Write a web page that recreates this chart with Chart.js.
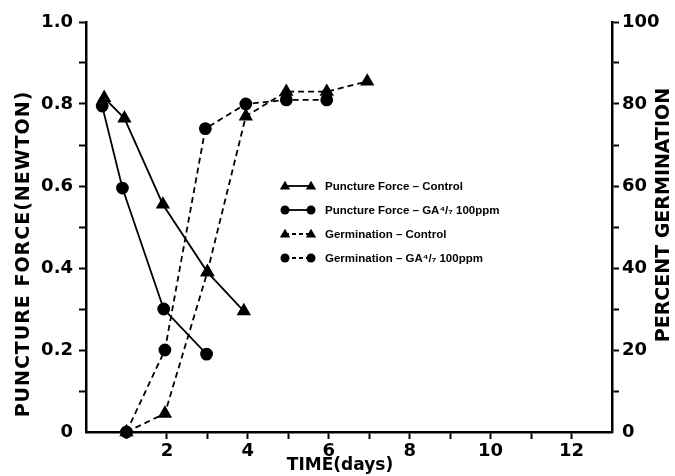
<!DOCTYPE html>
<html><head><meta charset="utf-8">
<script src="https://cdn.jsdelivr.net/npm/chart.js@4.4.1/dist/chart.umd.min.js"></script>
<style>html,body{margin:0;padding:0;background:#fff}#wrap{width:675px;height:476px}</style>
</head><body><div id="wrap"><canvas id="c" width="675" height="476"></canvas></div>
<script>
// ---- data ----
const pfControlDays = [0.45, 0.95, 1.9, 3, 3.9];
const pfControlForce = [0.815, 0.765, 0.555, 0.39, 0.295];
const pfGaDays = [0.4, 0.9, 1.92, 2.98];
const pfGaForce = [0.795, 0.595, 0.3, 0.19];
const germControlDays = [1, 1.95, 3, 3.95, 4.95, 5.95, 6.95];
const germControlPct = [0, 4.5, 39, 77, 83, 83, 85.5];
const germGaDays = [1, 1.95, 2.95, 3.95, 4.95, 5.95];
const germGaPct = [0, 20, 74, 80, 81, 81];
const xTickLabels = [2, 4, 6, 8, 10, 12];
const leftTickLabels = [0, 0.2, 0.4, 0.6, 0.8, 1.0];
const rightTickLabels = [0, 20, 40, 60, 80, 100];
const legendLabels = [
  'Puncture Force – Control',
  'Puncture Force – GA⁴/₇ 100ppm',
  'Germination – Control',
  'Germination – GA⁴/₇ 100ppm'
];

const pts = (xs, ys) => xs.map((x, i) => ({x, y: ys[i]}));
const FONT = 'DejaVu Sans';

function marker(ctx, style, x, y, r) {
  ctx.beginPath();
  if (style === 'circle') {
    ctx.arc(x, y, r, 0, Math.PI * 2);
  } else {
    const h = r * 1.9;
    ctx.moveTo(x, y - h * 0.6);
    ctx.lineTo(x + r * 1.15, y + h * 0.4);
    ctx.lineTo(x - r * 1.15, y + h * 0.4);
    ctx.closePath();
  }
  ctx.fill();
}

const deco = {
  id: 'deco',
  afterDraw(chart) {
    const ctx = chart.ctx;
    ctx.save();
    ctx.fillStyle = '#000';
    ctx.strokeStyle = '#000';
    // axis titles
    ctx.textAlign = 'center';
    ctx.textBaseline = 'middle';
    ctx.font = 'bold 19px ' + FONT;
    ctx.save(); ctx.letterSpacing = '1px'; ctx.translate(24, 254); ctx.rotate(-Math.PI / 2);
    ctx.fillText('PUNCTURE FORCE(NEWTON)', 0, 0); ctx.restore();
    ctx.save(); ctx.translate(664, 215); ctx.rotate(-Math.PI / 2);
    ctx.fillText('PERCENT GERMINATION', 0, 0); ctx.restore();
    ctx.font = 'bold 17px ' + FONT;
    ctx.fillText('TIME(days)', 340, 466);
    // legend
    const styles = ['triangle', 'circle', 'triangle', 'circle'];
    const dashed = [false, false, true, true];
    const ys = [186, 210, 234, 258];
    ctx.font = 'bold 11.5px Liberation Sans';
    ctx.textAlign = 'left';
    legendLabels.forEach((t, i) => {
      const y = ys[i];
      ctx.lineWidth = 1.8;
      ctx.setLineDash(dashed[i] ? [4, 3] : []);
      ctx.beginPath(); ctx.moveTo(285, y); ctx.lineTo(311, y); ctx.stroke();
      ctx.setLineDash([]);
      marker(ctx, styles[i], 285, y, 4.5);
      marker(ctx, styles[i], 311, y, 4.5);
      ctx.fillText(t, 325, y + 1);
    });
    ctx.restore();
  }
};

const solid = {borderColor: '#000', backgroundColor: '#000', borderWidth: 1.8, pointRadius: 5.5, pointHoverRadius: 5.5, fill: false, tension: 0};
const dash = Object.assign({}, solid, {borderDash: [6, 4]});
const tickFont = {family: FONT, size: 18, weight: 'bold'};

new Chart(document.getElementById('c'), {
  type: 'line',
  data: {
    datasets: [
      Object.assign({label: legendLabels[0], data: pts(pfControlDays, pfControlForce), pointStyle: 'triangle', yAxisID: 'y'}, solid, {pointRadius: 6.5}),
      Object.assign({label: legendLabels[1], data: pts(pfGaDays, pfGaForce), pointStyle: 'circle', yAxisID: 'y'}, solid),
      Object.assign({label: legendLabels[2], data: pts(germControlDays, germControlPct), pointStyle: 'triangle', yAxisID: 'y2'}, dash, {pointRadius: 6.5}),
      Object.assign({label: legendLabels[3], data: pts(germGaDays, germGaPct), pointStyle: 'circle', yAxisID: 'y2'}, dash)
    ]
  },
  options: {
    responsive: false,
    animation: false,
    clip: false,
    layout: {padding: {top: 22, left: 0, right: 0, bottom: 0}},
    plugins: {legend: {display: false}, tooltip: {enabled: false}},
    scales: {
      x: {
        type: 'linear', min: 0, max: 13,
        afterFit: s => { s.height = 44; },
        ticks: {stepSize: 1, color: '#000', font: tickFont, padding: 2, maxRotation: 0, autoSkip: false,
          callback: v => xTickLabels.includes(v) ? String(v) : ''},
        grid: {drawOnChartArea: false, tickLength: 7, tickWidth: 2,
          color: c => (c.tick && (c.tick.value === 0 || c.tick.value === 13)) ? 'rgba(0,0,0,0)' : '#000'},
        border: {display: true, color: '#000', width: 2.5}
      },
      y: {
        type: 'linear', position: 'left', min: 0, max: 1.0,
        afterFit: s => { s.width = 86; },
        ticks: {stepSize: 0.1, color: '#000', font: tickFont, padding: 6, autoSkip: false,
          callback: v => { const r = Math.round(v * 10) / 10; return leftTickLabels.includes(r) ? (r === 0 ? '0' : r.toFixed(1)) : ''; }},
        grid: {drawOnChartArea: false, tickLength: 7, tickWidth: 2,
          color: c => (c.tick && c.tick.value === 0) ? 'rgba(0,0,0,0)' : '#000'},
        border: {display: true, color: '#000', width: 2.5}
      },
      y2: {
        type: 'linear', position: 'right', min: 0, max: 100,
        afterFit: s => { s.width = 63; },
        ticks: {stepSize: 10, color: '#000', font: tickFont, padding: 3, autoSkip: false,
          callback: v => rightTickLabels.includes(v) ? String(v) : ''},
        grid: {drawOnChartArea: false, tickLength: 7, tickWidth: 2,
          color: c => (c.tick && c.tick.value === 0) ? 'rgba(0,0,0,0)' : '#000'},
        border: {display: true, color: '#000', width: 2.5}
      }
    }
  },
  plugins: [deco]
});
</script></body></html>
